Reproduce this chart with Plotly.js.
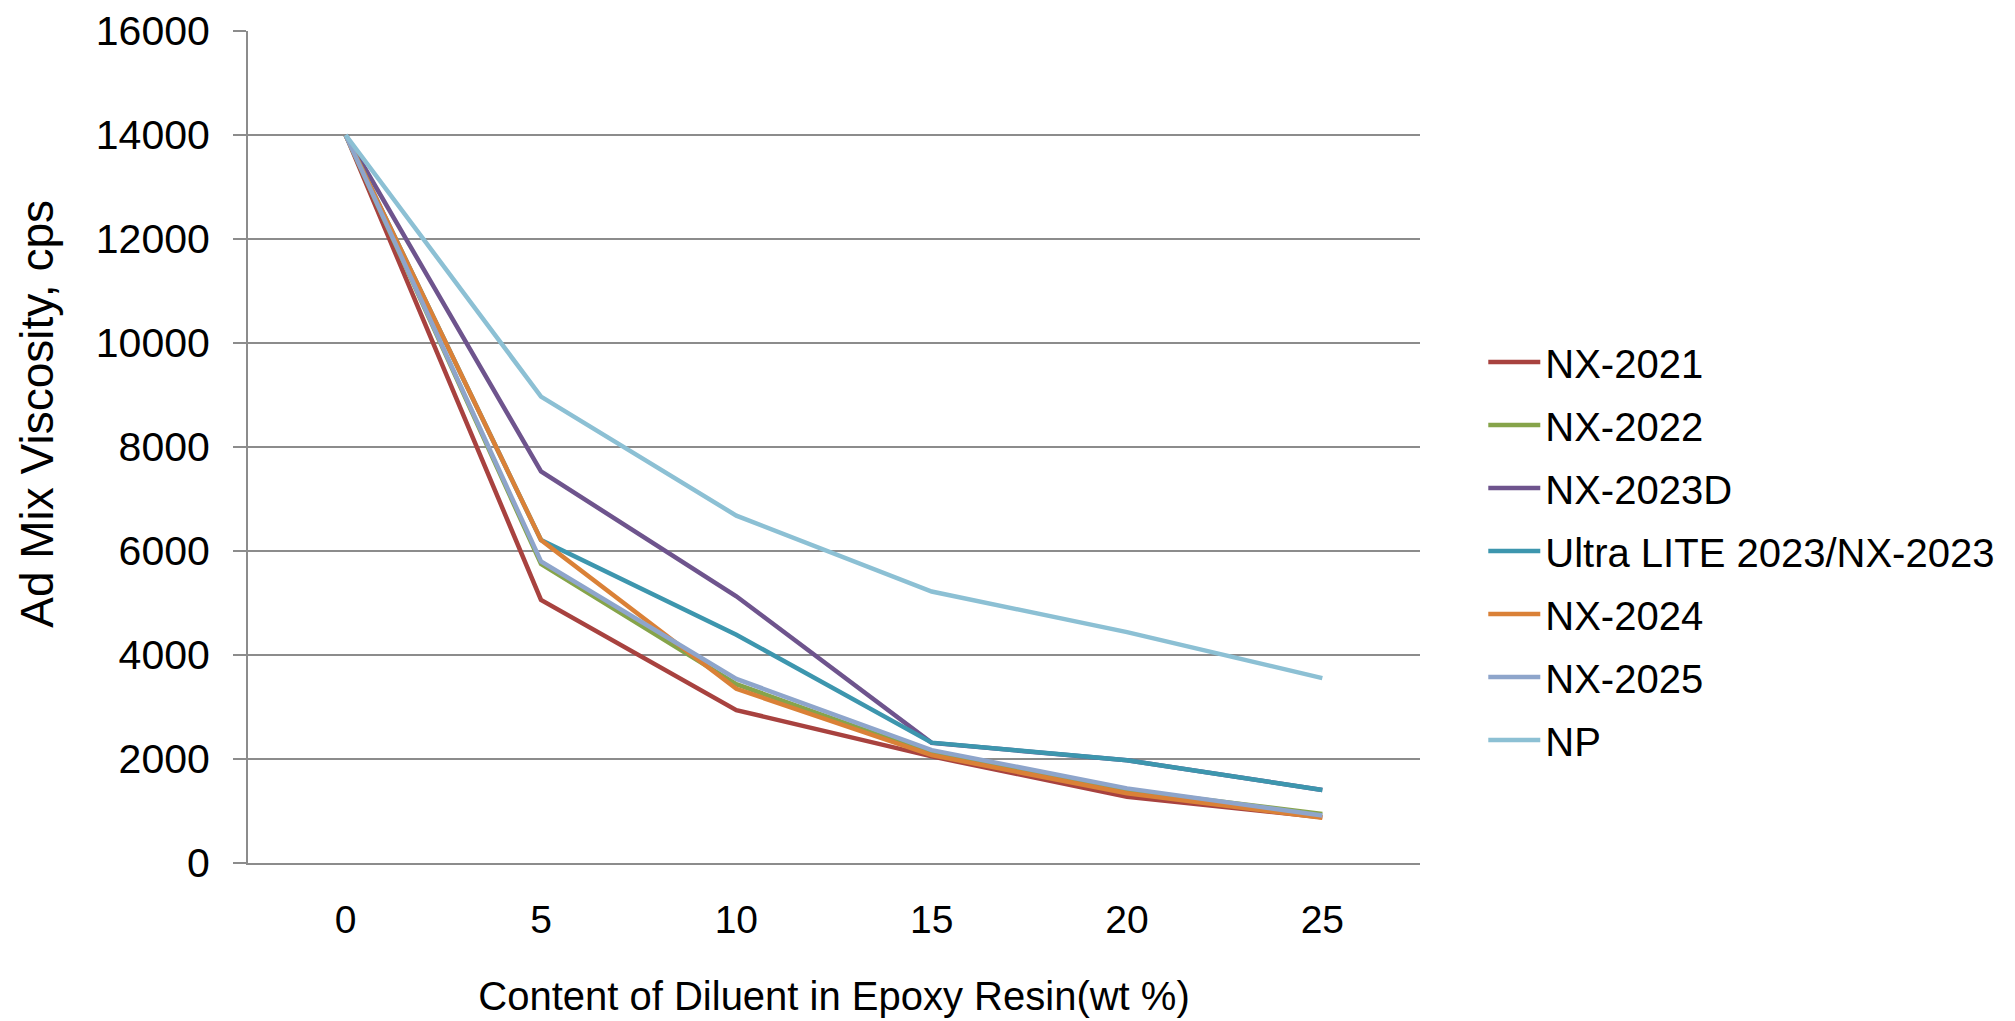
<!DOCTYPE html>
<html>
<head>
<meta charset="utf-8">
<script src="https://cdn.plot.ly/plotly-3.0.1.min.js"></script>
<style>html,body{margin:0;padding:0;background:#fff;}#chart{width:2015px;height:1021px;}</style>
</head>
<body>
<div id="chart"></div>
<script>
const categories = ['0', '5', '10', '15', '20', '25'];
const seriesNames = ['NX-2021', 'NX-2022', 'NX-2023D', 'Ultra LITE 2023/NX-2023', 'NX-2024', 'NX-2025', 'NP'];
const nx2021 = [14000, 5060, 2940, 2050, 1275, 880];
const nx2022 = [14000, 5750, 3440, 2100, 1400, 945];
const nx2023d = [14000, 7530, 5130, 2310, 1975, 1405];
const ultraLite = [14000, 6210, 4390, 2315, 1975, 1405];
const nx2024 = [14000, 6210, 3350, 2075, 1340, 870];
const nx2025 = [14000, 5800, 3540, 2170, 1435, 915];
const np = [14000, 8970, 6680, 5220, 4440, 3555];
const seriesValues = [nx2021, nx2022, nx2023d, ultraLite, nx2024, nx2025, np];
const seriesColors = ['#A8423F', '#86A44A', '#6E548D', '#3D96AE', '#DA8137', '#8EA5CB', '#8CC0D4'];
const yTicks = [0, 2000, 4000, 6000, 8000, 10000, 12000, 14000, 16000];
const xTitle = 'Content of Diluent in Epoxy Resin(wt %)';
const yTitle = 'Ad Mix Viscosity, cps';

const FONT = 'Liberation Sans, Arial, Helvetica, sans-serif';
const traces = seriesNames.map((name, i) => ({
  type: 'scatter',
  mode: 'lines',
  name: name,
  legendgroup: 'g' + i,
  x: categories,
  y: seriesValues[i],
  line: {color: seriesColors[i], width: 4.5},
  hoverinfo: 'x+y+name'
}));

const layout = {
  width: 2015,
  height: 1021,
  paper_bgcolor: '#ffffff',
  plot_bgcolor: '#ffffff',
  margin: {l: 248, r: 595, t: 31, b: 158, pad: 0},
  font: {family: FONT, size: 40, color: '#000000'},
  showlegend: true,
  legend: {
    x: 1.054, xanchor: 'left',
    y: 0.375, yanchor: 'middle',
    font: {family: FONT, size: 40, color: '#000'},
    tracegroupgap: 8,
    traceorder: 'grouped',
    itemwidth: 52,
    borderwidth: 0,
    bgcolor: 'rgba(0,0,0,0)'
  },
  xaxis: {
    type: 'category',
    categoryorder: 'array',
    categoryarray: categories,
    range: [-0.5, 5.5],
    showgrid: false,
    zeroline: false,
    showline: true,
    linecolor: '#8c8c8c',
    linewidth: 2,
    ticks: '',
    ticklabelstandoff: 21,
    tickfont: {family: FONT, size: 39, color: '#000'},
    automargin: false,
    title: {text: xTitle, font: {family: FONT, size: 40, color: '#000'}, standoff: 42}
  },
  yaxis: {
    range: [0, 16000],
    tickvals: yTicks,
    ticktext: yTicks.map(String),
    showgrid: true,
    gridcolor: '#8c8c8c',
    gridwidth: 2,
    zeroline: false,
    showline: true,
    linecolor: '#8c8c8c',
    linewidth: 2,
    ticks: 'outside',
    ticklen: 13,
    tickwidth: 2,
    tickcolor: '#8c8c8c',
    ticklabelstandoff: 15,
    tickfont: {family: FONT, size: 41, color: '#000'},
    automargin: false
  },
  annotations: [{
    text: yTitle,
    xref: 'paper', yref: 'paper',
    x: -0.18, y: 0.54,
    xanchor: 'center', yanchor: 'middle',
    textangle: -90,
    showarrow: false,
    font: {family: FONT, size: 46, color: '#000'}
  }]
};

Plotly.newPlot('chart', traces, layout, {displayModeBar: false, staticPlot: true});
</script>
</body>
</html>
